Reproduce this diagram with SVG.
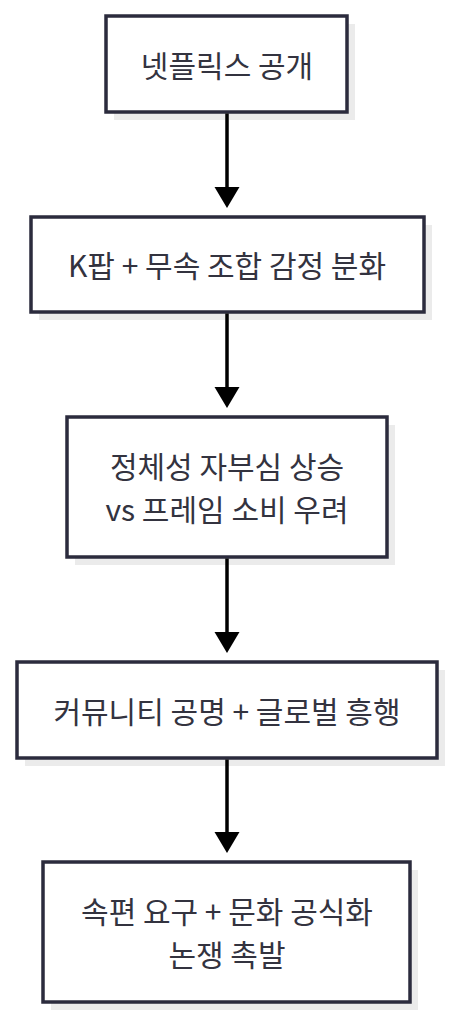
<svg xmlns="http://www.w3.org/2000/svg" width="456" height="1024" viewBox="0 0 456 1024">
<defs>
<style>
.box{fill:#ffffff;stroke:#2b2b3d;stroke-width:3.5}
.shadow{fill:#ebebeb}
.lbl{font-family:"Noto Sans CJK KR","Noto Sans",sans-serif;font-size:30px;fill:#33333f;text-anchor:middle;dominant-baseline:central}
.edge{stroke:#000;stroke-width:3.5;fill:none}
.head{fill:#000}
</style>
</defs>
<g id="node1">
<rect class="shadow" x="114" y="24" width="241" height="96"/>
<rect class="box" x="106" y="16" width="241" height="96"/>
<text class="lbl" x="227" y="64">넷플릭스 공개</text>
</g>
<g id="node2">
<rect class="shadow" x="39" y="225" width="393" height="95"/>
<rect class="box" x="31" y="217" width="393" height="95"/>
<text class="lbl" x="227" y="264">K팝 + 무속 조합 감정 분화</text>
</g>
<g id="node3">
<rect class="shadow" x="75" y="425" width="320" height="140"/>
<rect class="box" x="67" y="417" width="320" height="140"/>
<text class="lbl" x="227" y="465">정체성 자부심 상승</text>
<text class="lbl" x="227" y="508">vs 프레임 소비 우려</text>
</g>
<g id="node4">
<rect class="shadow" x="25" y="670" width="420" height="96"/>
<rect class="box" x="17" y="662" width="420" height="96"/>
<text class="lbl" x="227" y="710">커뮤니티 공명 + 글로벌 흥행</text>
</g>
<g id="node5">
<rect class="shadow" x="51" y="870" width="367" height="140"/>
<rect class="box" x="43" y="862" width="367" height="140"/>
<text class="lbl" x="227" y="910">속편 요구 + 문화 공식화</text>
<text class="lbl" x="227" y="953">논쟁 촉발</text>
</g>
<g id="connectors">
<line class="edge" x1="227" y1="113.5" x2="227" y2="190"/>
<polygon class="head" points="214.5,187 239.5,187 227,208"/>
<line class="edge" x1="227" y1="313.5" x2="227" y2="390"/>
<polygon class="head" points="214.5,387 239.5,387 227,408"/>
<line class="edge" x1="227" y1="558.5" x2="227" y2="635"/>
<polygon class="head" points="214.5,632 239.5,632 227,653"/>
<line class="edge" x1="227" y1="759.5" x2="227" y2="835"/>
<polygon class="head" points="214.5,832 239.5,832 227,853"/>
</g>
</svg>
